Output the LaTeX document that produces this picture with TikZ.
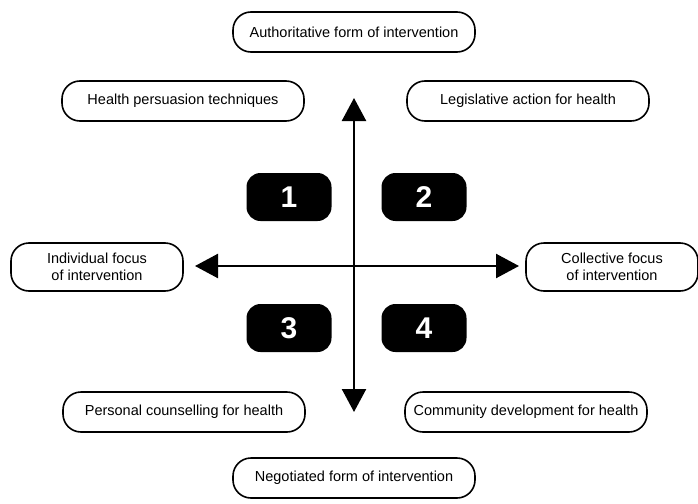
\documentclass[tikz,border=0pt]{standalone}
\usepackage{fontspec}
\setmainfont{Liberation Sans}
\usepackage{tikz}
\usetikzlibrary{arrows.meta}
\usetikzlibrary{positioning}
\tikzset{lbox/.style = {draw, line width = 1.6pt, rounded corners = 18pt, align = center,
    minimum width = 242pt, minimum height = 40pt, inner sep = 2pt,
    font = \fontsize{14.5}{17}\selectfont}}
\tikzset{sbox/.style = {lbox, minimum width = 172pt, minimum height = 48pt}}
\tikzset{qbox/.style = {fill, rounded corners = 14pt, minimum width = 85pt,
    minimum height = 48pt, text = white, font = \fontsize{30}{30}\selectfont\bfseries}}
\tikzset{axis/.style = {line width = 2.4pt, {Triangle[length=23pt, width=24pt]}-{Triangle[length=23pt, width=24pt]}}}

\begin{document}
\begin{tikzpicture}[x=1pt, y=-1pt]
      \useasboundingbox (0, 0) rectangle (698, 503);

      \node [lbox] (auth) at (354, 32) {Authoritative form of intervention};
      \node [lbox] (persu) at (183, 101) {Health persuasion techniques};
      \node [lbox] (legis) at (528, 101) {Legislative action for health};
      \node [sbox] (indiv) at (97, 267) {Individual focus\\of intervention};
      \node [sbox] (collec) at (612, 267) {Collective focus\\of intervention};
      \node [lbox] (couns) at (184, 412) {Personal counselling for health};
      \node [lbox] (commun) at (526, 412) {Community development for health};
      \node [lbox] (negot) at (354, 478) {Negotiated form of intervention};

      \coordinate (ntip) at (354, 98);
      \coordinate (stip) at (354, 412);
      \coordinate (wtip) at (195, 266);
      \coordinate (etip) at (519, 266);
      \draw [axis] (stip) -- (ntip);
      \draw [axis] (wtip) -- (etip);

      \node [qbox] (q1) at (289, 197) {1};
      \node [qbox] (q2) at (424, 197) {2};
      \node [qbox] (q3) at (289, 328) {3};
      \node [qbox] (q4) at (424, 328) {4};
    \end{tikzpicture}
\end{document}
